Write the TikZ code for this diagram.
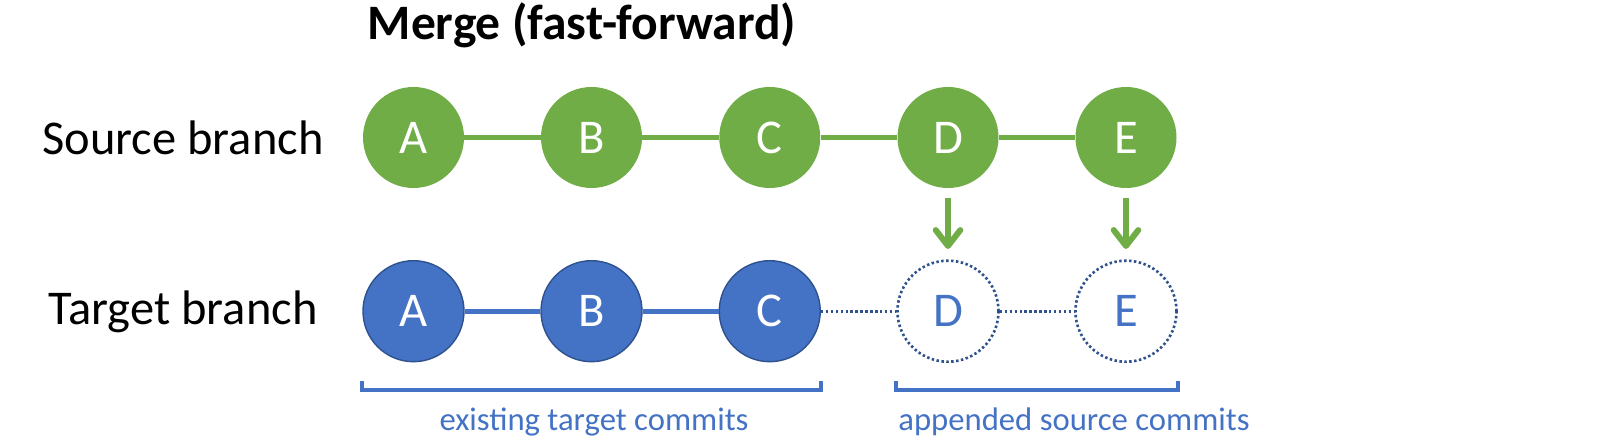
\documentclass[tikz,border=0pt]{standalone}
\usepackage{fontspec}
\setmainfont{Carlito}
\usepackage{xcolor}
\usepackage{tikz}
\usetikzlibrary{arrows.meta,positioning}
\definecolor{srcc}{HTML}{70AD47}
\definecolor{tgtc}{HTML}{4472C4}
\definecolor{tgtd}{HTML}{2F528F}
\tikzset{
  commit/.style={circle,minimum size=2.02cm,inner sep=0pt,font=\fontsize{27.6}{30}\selectfont},
  srcnode/.style={commit,fill=srcc,text=white},
  tgtnode/.style={commit,fill=tgtc,draw=tgtd,line width=0.8pt,text=white},
  ghost/.style={commit,draw=tgtd,line width=1.5pt,dash pattern=on 1.4pt off 1.4pt,text=tgtc},
  srcline/.style={srcc,line width=3pt},
  tgtline/.style={tgtc,line width=3pt},
  ghostline/.style={tgtd,line width=1.5pt,dash pattern=on 1.4pt off 1.4pt},
  fwd/.style={-{Straight Barb[length=9pt,width=14pt,line cap=round,line join=round]},srcc,line width=3.4pt},
  brk/.style={tgtc,line width=2.2pt},
  rowlbl/.style={font=\fontsize{27.6}{30}\selectfont,anchor=base},
  brklbl/.style={font=\fontsize{18.6}{22}\selectfont,text=tgtc,anchor=base}
}
\begin{document}
\begin{tikzpicture}
\useasboundingbox (0,0) rectangle (32,8.8);
\node[font=\fontsize{28.2}{30}\selectfont\bfseries,anchor=base] (title) at (11.64,8.0) {Merge (fast-forward)};
% row labels
\node[rowlbl] (srclbl) at (3.66,5.7) {Source branch};
\node[rowlbl] (tgtlbl) at (3.66,2.3) {Target branch};
% source branch
\node[srcnode] (sA) at (8.27,6.05) {A};
\node[srcnode] (sB) at (11.83,6.05) {B};
\node[srcnode] (sC) at (15.395,6.05) {C};
\node[srcnode] (sD) at (18.96,6.05) {D};
\node[srcnode] (sE) at (22.52,6.05) {E};
\draw[srcline] (sA) -- (sB) (sB) -- (sC) (sC) -- (sD) (sD) -- (sE);
% target branch
\node[tgtnode] (tA) at (8.27,2.576) {A};
\node[tgtnode] (tB) at (11.83,2.576) {B};
\node[tgtnode] (tC) at (15.395,2.576) {C};
\node[ghost] (tD) at (18.96,2.576) {D};
\node[ghost] (tE) at (22.52,2.576) {E};
\draw[tgtline] (tA) -- (tB) (tB) -- (tC);
\draw[ghostline] (tC) -- (tD) (tD) -- (tE);
% fast-forward arrows
\draw[fwd] ([yshift=-0.2cm]sD.south) -- ([yshift=0.21cm]tD.north);
\draw[fwd] ([yshift=-0.2cm]sE.south) -- ([yshift=0.21cm]tE.north);
% brackets
\coordinate (bktop) at (0,1.18);
\coordinate (bkbot) at (0,1.0);
\draw[brk] (tA.west |- bktop) -- (tA.west |- bkbot) -- (tC.east |- bkbot) -- (tC.east |- bktop);
\draw[brk] (tD.west |- bktop) -- (tD.west |- bkbot) -- (tE.east |- bkbot) -- (tE.east |- bktop);
\node[brklbl] (oldlbl) at (11.88,0.2) {existing target commits};
\node[brklbl] (newlbl) at (21.48,0.2) {appended source commits};
\end{tikzpicture}
\end{document}
